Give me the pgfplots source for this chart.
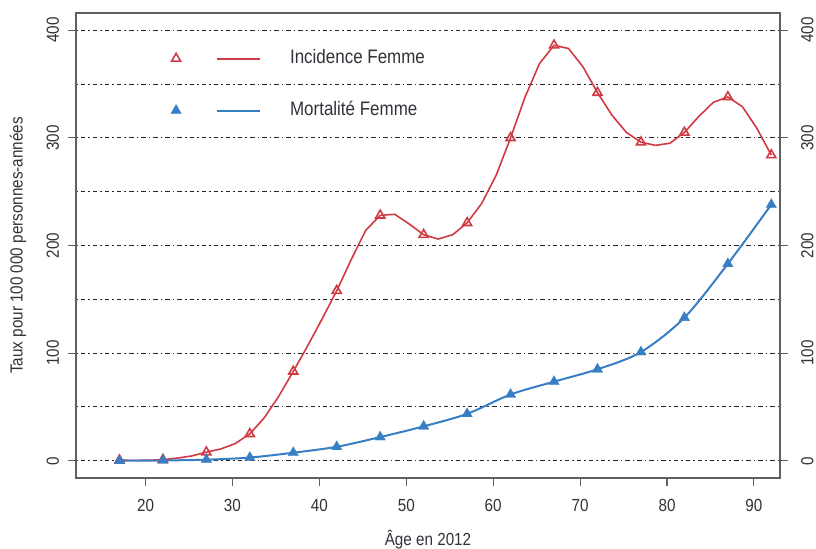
\documentclass[border=0pt]{standalone}
\usepackage{fontspec}
\setmainfont{Liberation Sans}[FakeStretch=0.87]
\usepackage{pgfplots}
\pgfplotsset{compat=1.18}

\definecolor{incred}{RGB}{208,58,66}
\definecolor{mortblue}{RGB}{56,126,196}
\definecolor{txtgray}{RGB}{50,50,58}
\definecolor{framegray}{RGB}{95,95,95}

\pgfplotsset{
  chartbase/.style={
    scale only axis, width=704pt, height=465pt,
    xmin=12, xmax=93, ymin=-16, ymax=416,
    tick align=outside, major tick length=8pt,
    /pgf/number format/assume math mode=true,
    tick label style={font=\fontsize{17.5}{20}\selectfont, text=txtgray, inner sep=0pt},
    tick style={framegray, line width=1.1pt},
  },
}

\begin{document}
\begin{tikzpicture}
\begin{axis}[chartbase, name=main,
  axis line style={framegray, line width=1.2pt},
  xtick={20,30,...,90}, xtick pos=left,
  ytick={0,100,...,400}, ytick pos=left,
  minor ytick={50,150,250,350}, minor tick length=0pt,
  ymajorgrids, yminorgrids,
  grid style={black!85, line width=1pt, dash pattern=on 1.6pt off 3pt on 4.5pt off 3pt},
  yticklabel style={rotate=90, anchor=south},
  xticklabel style={anchor=north},
  yticklabel shift=8.7pt, xticklabel shift=13.3pt,
  xlabel={Âge en 2012}, ylabel={Taux pour 100 000 personnes-années},
  label style={font=\fontsize{17.5}{20}\selectfont, text=txtgray, inner sep=0pt},
  xlabel style={at={(rel axis cs:0.5,-0.132)}, anchor=center},
  ylabel style={at={(rel axis cs:-0.0824,0.5)}, anchor=center, rotate=0},
  legend style={at={(rel axis cs:0.1348,0.9214)}, anchor=north west,
    draw=none, fill=none, inner sep=0pt, outer sep=0pt,
    column sep=29pt, row sep=34pt,
    nodes={inner sep=0pt, text=txtgray, font=\fontsize{19.5}{22}\selectfont,
      text height=14pt, text depth=4pt}},
  legend cell align=left,
  legend image code/.code={
    \draw[#1, only marks] plot coordinates {(0pt,0pt)};
    \draw[#1, mark=none] (41pt,0pt) -- (84pt,0pt);
  },
]
% Incidence: trace de la courbe lissee
\addplot[incred, line width=1.6pt, forget plot] table {
17 0.5
18.67 0.4
20.33 0.5
22 1
23.67 2.5
25.33 4.5
27 8
28.67 11
30.33 16
32 25
33.67 40
35.33 60
37 83
38.67 107
40.33 132
42 158
43.67 187
45.33 214
47 228
48.67 229
50.33 220
52 210
53.67 206
55.33 210
57 221
58.67 239
60.33 265
62 300
63.67 338
65.33 369
67 386
68.67 383
70.33 366
72 342
73.67 321
75.33 305
77 296
78.67 293
80.33 295
82 305
83.67 320
85.33 333
87 338
88.67 329
90.33 309
92 284
};
\addplot[incred, only marks, mark=triangle, mark size=5.2pt,
  mark options={line width=1.6pt}, forget plot] table {
17 0.5
22 1
27 8
32 25
37 83
42 158
47 228
52 210
57 221
62 300
67 386
72 342
77 296
82 305
87 338
92 284
};
% Mortalite
\addplot[mortblue, line width=2pt, smooth, forget plot] table {
17 0
22 0.3
27 1
32 3
37 7.5
42 13
47 22
52 32
57 43.6
62 61.6
67 73.5
72 85
77 101
82 133
87 183
92 238
};
\addplot[mortblue, only marks, mark=triangle*, mark size=6pt,
  mark options={line width=0.3pt}, forget plot] table {
17 0
22 0.3
27 1
32 3
37 7.5
42 13
47 22
52 32
57 43.6
62 61.6
67 73.5
72 85
77 101
82 133
87 183
92 238
};
\addlegendimage{incred, line width=2pt, mark=triangle, mark size=5.2pt, mark options={line width=1.6pt}}
\addlegendentry{Incidence Femme}
\addlegendimage{mortblue, line width=2pt, mark=triangle*, mark size=6pt, mark options={line width=0.3pt}}
\addlegendentry{Mortalité Femme}
\end{axis}
\begin{axis}[chartbase,
  hide x axis, axis y line*=right, axis line style={-, draw=none},
  ytick={0,100,...,400}, ytick pos=right, yticklabel pos=right,
  yticklabel style={rotate=90, anchor=north},
  yticklabel shift=13pt,
]
\addplot[draw=none] coordinates {(20,0)};
\end{axis}
\path ([xshift=-76pt,yshift=-69.3pt]main.south west) rectangle ([xshift=36pt,yshift=13pt]main.north east);
\end{tikzpicture}
\end{document}
